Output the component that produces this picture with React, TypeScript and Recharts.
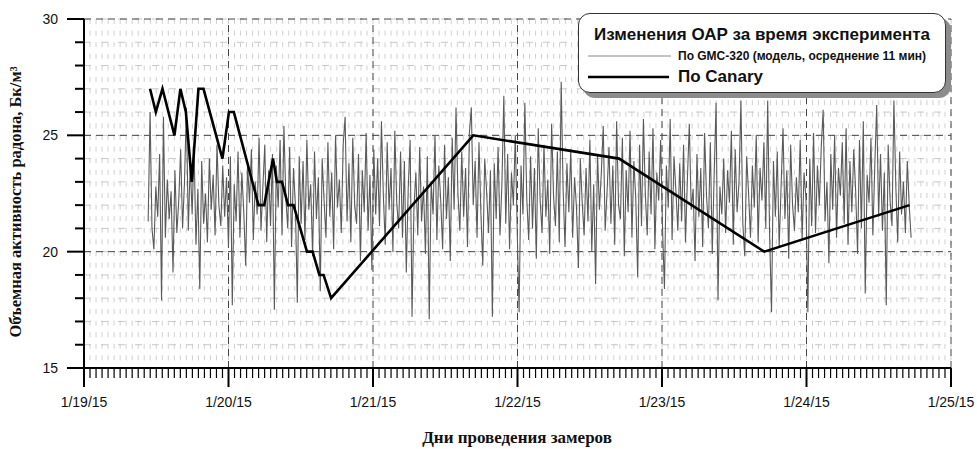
import React from 'react'
import { LineChart, Line, XAxis, YAxis, CartesianGrid, ReferenceLine, Legend, Label } from 'recharts'

// GMC-320 readings (11 min averaging), Bq/m3 left to right
const gmcStart = 0.444 // days after 1/19/15 00:00
const gmcEnd = 5.724
const gmcValues = [
  21.3, 26.0, 21.0, 20.1, 22.8, 21.5, 24.2, 17.9, 25.8, 20.6, 23.1, 21.4, 22.6, 19.1, 23.5, 20.8, 22.2, 24.4, 21.0, 23.0,
  26.2, 20.9, 23.8, 21.6, 24.5, 20.3, 22.7, 18.4, 23.9, 21.2, 22.5, 20.4, 24.0, 21.8, 23.3, 20.7, 24.6, 22.0, 21.1, 23.7,
  21.5, 23.2, 20.2, 24.1, 17.7, 22.9, 21.3, 24.3, 20.6, 23.4, 21.7, 19.4, 23.8, 22.1, 24.4, 20.5, 23.0, 21.6, 24.9, 20.9,
  22.8, 24.6, 20.4, 23.5, 21.1, 24.2, 17.5, 23.7, 21.9, 24.8, 20.7, 25.4, 22.3, 21.0, 24.5, 20.2, 23.6, 22.0, 17.8, 24.1,
  21.2, 23.9, 20.5, 24.8, 21.8, 22.9, 19.8, 24.3, 21.4, 23.2, 18.3, 24.0, 22.2, 20.6, 24.7, 21.5, 23.4, 20.1, 25.0, 21.9,
  23.1, 20.8, 24.6, 25.8, 21.3, 23.8, 20.4, 24.9, 22.0, 21.2, 24.2, 19.6, 23.5, 21.7, 25.1, 20.9, 23.3, 19.2, 24.4, 21.6,
  24.0, 21.1, 25.6, 22.4, 20.3, 24.7, 21.8, 23.6, 20.0, 25.2, 22.1, 21.0, 24.3, 20.6, 23.9, 19.1, 22.7, 24.8, 17.2, 21.9,
  23.4, 20.7, 24.5, 21.3, 22.8, 19.9, 24.1, 17.1, 23.0, 21.6, 25.0, 20.5, 23.7, 22.2, 20.1, 24.6, 21.4, 23.2, 19.6, 24.9,
  21.8, 26.2, 22.5, 20.9, 24.3, 21.5, 23.6, 20.2, 25.1, 26.2, 22.0, 23.9, 20.6, 24.7, 21.7, 19.4, 24.0, 22.6, 20.8, 23.5,
  17.2, 23.8, 21.4, 24.5, 20.7, 22.9, 26.7, 21.2, 24.2, 20.1, 23.4, 22.0, 25.0, 20.9, 17.4, 23.7, 21.6, 26.4, 22.3, 20.5,
  24.1, 21.0, 23.6, 19.7, 25.3, 22.2, 20.8, 24.6, 21.5, 23.1, 19.9, 25.5, 22.4, 21.1, 24.3, 20.4, 27.3, 22.7, 20.2, 23.8,
  21.7, 24.4, 20.6, 23.2, 21.9, 19.3, 24.0, 22.1, 20.7, 23.6, 21.3, 24.8, 20.0, 22.9, 18.6, 24.2, 21.8, 23.4, 25.4, 20.9,
  22.6, 24.5, 21.2, 23.7, 20.3, 25.6, 22.0, 21.4, 24.9, 19.8, 23.5, 21.7, 25.2, 20.6, 23.9, 22.3, 18.9, 24.6, 21.1, 25.7,
  22.5, 20.7, 24.3, 21.6, 25.3, 20.1, 23.4, 22.2, 24.8, 21.0, 18.4, 23.7, 21.9, 25.7, 20.5, 24.1, 22.6, 20.9, 23.8, 21.3,
  24.6, 20.4, 23.1, 25.5, 21.8, 22.7, 19.6, 24.2, 21.5, 23.6, 20.2, 25.1, 22.4, 21.0, 24.7, 19.9, 23.3, 26.4, 17.9, 22.8,
  21.6, 24.0, 20.8, 23.5, 22.1, 25.2, 20.3, 24.4, 21.7, 23.0, 26.5, 21.2, 19.8, 24.1, 22.5, 20.6, 23.7, 21.9, 25.0, 20.4,
  23.6, 22.2, 24.7, 21.0, 26.5, 20.7, 17.4, 23.9, 21.5, 24.3, 20.2, 22.8, 25.3, 21.4, 23.5, 19.7, 24.6, 22.0, 20.9, 23.2,
  21.7, 24.8, 20.5, 23.4, 22.3, 17.4, 24.0, 21.1, 25.1, 20.8, 23.7, 22.0, 24.5, 26.1, 21.3, 23.0, 19.5, 24.2, 21.8, 25.0,
  20.6, 23.6, 22.4, 24.7, 21.2, 25.3, 20.3, 23.9, 21.7, 24.4, 22.6, 19.9, 24.8, 21.0, 25.6, 18.2, 23.3, 22.1, 24.9, 20.7,
  23.7, 26.3, 21.5, 24.2, 20.9, 23.4, 17.7, 24.6, 22.2, 21.1, 26.5, 22.8, 20.4, 24.3, 21.6, 23.0, 20.8, 23.9, 22.0, 20.6,
]

// Canary readings
const canaryTimes = [
  0.457, 0.497, 0.543, 0.626, 0.667, 0.705, 0.746, 0.792, 0.827, 0.958, 1.003, 1.037, 1.208, 1.247,
  1.308, 1.335, 1.37, 1.412, 1.45, 1.543, 1.582, 1.629, 1.658, 1.71, 2.694, 3.703, 4.708, 5.713,
]
const canaryValues = [27, 26, 27, 25, 27, 26, 23, 27, 27, 24, 26, 26, 22, 22, 24, 23, 23, 22, 22, 20, 20, 19, 19, 18, 25, 24, 20, 22]

const dayLabels = ['1/19/15', '1/20/15', '1/21/15', '1/22/15', '1/23/15', '1/24/15', '1/25/15']
const yMajor = [15, 20, 25, 30]

const gmcStep = (gmcEnd - gmcStart) / (gmcValues.length - 1)
const gmcData = gmcValues.map((v, i) => ({ t: gmcStart + i * gmcStep, v }))
const canaryData = canaryTimes.map((t, i) => ({ t, v: canaryValues[i] }))

const hourTicks = Array.from({ length: (dayLabels.length - 1) * 24 + 1 }, (_, i) => i / 24)
const yTicks = Array.from({ length: 16 }, (_, i) => 15 + i)

const sans = '"Liberation Sans", Arial, sans-serif'
const serif = '"Liberation Serif", "Times New Roman", serif'

const XTick = (props: any) => {
  const { x, y, payload } = props
  const d = Math.round(payload.value * 24)
  const major = d % 24 === 0
  return (
    <g>
      <line x1={x} x2={x} y1={y} y2={y + (major ? 19 : 10)} stroke="#000" strokeWidth={major ? 2 : 1.2} />
      {major && (
        <text x={x} y={y + 39} textAnchor="middle" fontSize={14} fontFamily={sans} fill="#111">
          {dayLabels[d / 24]}
        </text>
      )}
    </g>
  )
}

const YTick = (props: any) => {
  const { x, y, payload } = props
  const major = yMajor.includes(payload.value)
  return (
    <g>
      <line x1={x - (major ? 17 : 9)} x2={x} y1={y} y2={y} stroke="#000" strokeWidth={2} />
      {major && (
        <text x={x - 26} y={y + 5} textAnchor="end" fontSize={14} fontFamily={sans} fill="#111">
          {payload.value}
        </text>
      )}
    </g>
  )
}

const LegendBox = () => (
  <div
    style={{
      position: 'relative',
      width: 368,
      height: 80,
      boxSizing: 'border-box',
      border: '1px solid #333',
      borderRadius: 12,
      background: '#fff',
      boxShadow: '5px 5px 0 #8c8c8c',
      fontFamily: sans,
      fontWeight: 'bold',
      color: '#111',
    }}
  >
    <div style={{ position: 'absolute', left: 0, right: 0, top: 10, textAlign: 'center', fontSize: 17, lineHeight: '22px', whiteSpace: 'nowrap' }}>
      Изменения ОАР за время эксперимента
    </div>
    <svg width={95} height={80} style={{ position: 'absolute', left: 0, top: 0 }}>
      <line x1={9} x2={92} y1={42} y2={42} stroke="#888" strokeWidth={1} />
      <line x1={9} x2={90} y1={63} y2={63} stroke="#000" strokeWidth={2.5} />
    </svg>
    <div style={{ position: 'absolute', left: 99, top: 34, fontSize: 12, lineHeight: '16px', whiteSpace: 'nowrap' }}>
      По GMC-320 (модель, осреднение 11 мин)
    </div>
    <div style={{ position: 'absolute', left: 99, top: 52, fontSize: 17, lineHeight: '22px', whiteSpace: 'nowrap' }}>
      По Canary
    </div>
  </div>
)

export default function App() {
  return (
    <div style={{ position: 'absolute', left: 0, top: 0, width: 977, height: 449, background: '#fff' }}>
      <LineChart width={977} height={449} margin={{ top: 19, right: 26, left: 0, bottom: 0 }}>
        <CartesianGrid horizontal={false} stroke="#d0d0d0" strokeDasharray="5 6.6" />
        <CartesianGrid vertical={false} stroke="#c8c8c8" strokeDasharray="7 10" />
        <XAxis
          type="number"
          dataKey="t"
          domain={[0, 6]}
          ticks={hourTicks}
          interval={0}
          height={81}
          tickSize={0}
          tickMargin={0}
          tickLine={false}
          axisLine={{ stroke: '#000', strokeWidth: 2 }}
          tick={<XTick />}
          allowDataOverflow
        >
          <Label
            content={() => (
              <text x={517} y={443} textAnchor="middle" fontSize={17} fontWeight="bold" fontFamily={serif} fill="#111">
                Дни проведения замеров
              </text>
            )}
          />
        </XAxis>
        <YAxis
          type="number"
          domain={[15, 30]}
          ticks={yTicks}
          interval={0}
          width={84}
          tickSize={0}
          tickMargin={0}
          tickLine={false}
          axisLine={{ stroke: '#000', strokeWidth: 2 }}
          tick={<YTick />}
          allowDataOverflow
        >
          <Label
            content={() => (
              <text
                x={21}
                y={202}
                transform="rotate(-90 21 202)"
                textAnchor="middle"
                fontSize={16.5}
                fontWeight="bold"
                fontFamily={serif}
                fill="#111"
              >
                Объемная активность радона, Бк/м³
              </text>
            )}
          />
        </YAxis>
        {[1, 2, 3, 4, 5, 6].map((d) => (
          <ReferenceLine key={'d' + d} x={d} stroke="#444" strokeDasharray="7 5" />
        ))}
        {[20, 25, 30].map((v) => (
          <ReferenceLine key={'y' + v} y={v} stroke="#444" strokeDasharray="7 5" />
        ))}
        <Legend
          layout="vertical"
          align="center"
          verticalAlign="middle"
          content={<LegendBox />}
          wrapperStyle={{ left: 578, top: 13, width: 368, height: 80 }}
        />
        <Line
          data={gmcData}
          dataKey="v"
          name="По GMC-320 (модель, осреднение 11 мин)"
          stroke="#5a5a5a"
          strokeWidth={1.1}
          dot={false}
          isAnimationActive={false}
          type="linear"
        />
        <Line
          data={canaryData}
          dataKey="v"
          name="По Canary"
          stroke="#000"
          strokeWidth={2.6}
          dot={false}
          isAnimationActive={false}
          type="linear"
        />
      </LineChart>
    </div>
  )
}
